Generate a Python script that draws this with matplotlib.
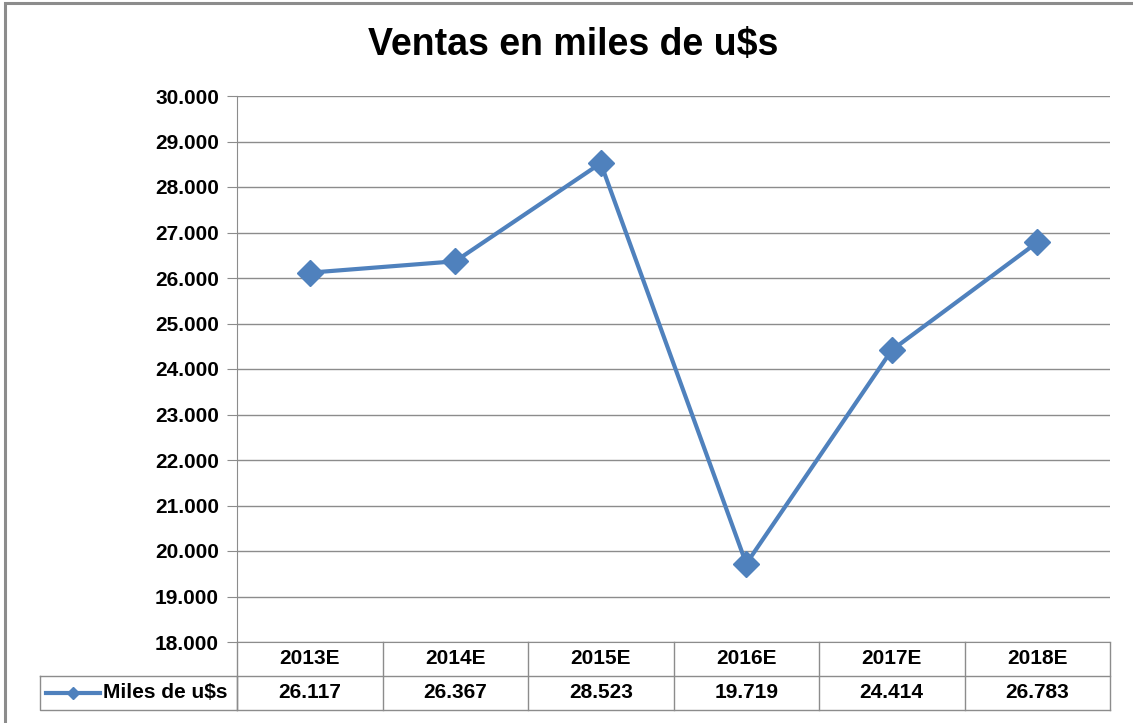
import matplotlib.pyplot as plt
from matplotlib.patches import Rectangle
from matplotlib.ticker import FuncFormatter
import matplotlib.transforms as mtransforms

plt.rcParams['font.family'] = ['Liberation Sans', 'DejaVu Sans']

years = ['2013E', '2014E', '2015E', '2016E', '2017E', '2018E']
ventas = [26117, 26367, 28523, 19719, 24414, 26783]
serie = 'Miles de u$s'
titulo = 'Ventas en miles de u$s'

W, H = 1133, 723
fig = plt.figure(figsize=(W / 100, H / 100), dpi=100)

# outer chart frame (runs off the right and bottom edges)
fig.patches.append(Rectangle((5 / W, -0.05), 1.2, 1 - 3 / H + 0.05, transform=fig.transFigure,
                             fill=False, edgecolor='#8c8c8c', linewidth=2.2))

L, R, T, B = 237, 1110, 96, 642
ax = fig.add_axes([L / W, 1 - B / H, (R - L) / W, (B - T) / H])

blue = '#4f81bd'
fs = 15
x = range(len(years))
ax.plot(x, ventas, color=blue, linewidth=3, marker='D', markersize=13, zorder=3,
        clip_on=False)

ax.set_xlim(-0.5, len(years) - 0.5)
ax.set_ylim(18000, 30000)
ax.set_yticks(range(18000, 30001, 1000))
ax.yaxis.set_major_formatter(FuncFormatter(lambda v, p: f'{int(v):,}'.replace(',', '.')))
ax.grid(axis='y', color='#8c8c8c', linewidth=1)
ax.set_axisbelow(True)
ax.set_xticks([])
for s in ['top', 'right']:
    ax.spines[s].set_visible(False)
ax.spines['left'].set_color('#8c8c8c')
ax.spines['bottom'].set_color('#8c8c8c')
ax.tick_params(axis='y', length=7, color='#8c8c8c', labelsize=fs, pad=6)
for lbl in ax.get_yticklabels():
    lbl.set_fontweight('bold')

fig.text(573 / W, 1 - 45 / H, titulo, ha='center', va='center', fontsize=27, fontweight='bold')

# data table below the axes
tr = mtransforms.blended_transform_factory(ax.transData, fig.transFigure)
fy = lambda py: 1 - py / H
row1, row2, row3 = 642, 676, 710
gray = '#8c8c8c'
n = len(years)
for i in range(n + 1):
    ax.plot([i - 0.5, i - 0.5], [fy(row1), fy(row3)], transform=tr, color=gray, lw=1, clip_on=False)
ax.plot([-0.5, n - 0.5], [fy(row3), fy(row3)], transform=tr, color=gray, lw=1, clip_on=False)
ax.plot([-0.5, n - 0.5], [fy(row2), fy(row2)], transform=tr, color=gray, lw=1, clip_on=False)
for i, (yr, v) in enumerate(zip(years, ventas)):
    ax.text(i, fy((row1 + row2) / 2), yr, transform=tr, ha='center', va='center',
            fontsize=fs, fontweight='bold')
    ax.text(i, fy((row2 + row3) / 2), f'{v:,}'.replace(',', '.'), transform=tr,
            ha='center', va='center', fontsize=fs, fontweight='bold')

# legend cell
fig.lines.append(plt.Line2D([40 / W, L / W, L / W, 40 / W, 40 / W],
                            [fy(row2), fy(row2), fy(row3), fy(row3), fy(row2)],
                            transform=fig.transFigure, color=gray, lw=1))
fig.lines.append(plt.Line2D([46 / W, 100 / W], [fy(693), fy(693)], transform=fig.transFigure,
                            color=blue, lw=3))
fig.lines.append(plt.Line2D([73 / W], [fy(693)], transform=fig.transFigure, color=blue,
                            marker='D', markersize=6, linestyle='none'))
fig.text(103 / W, fy(693), serie, ha='left', va='center', fontsize=fs, fontweight='bold')

fig.savefig('out.png', dpi=100)
